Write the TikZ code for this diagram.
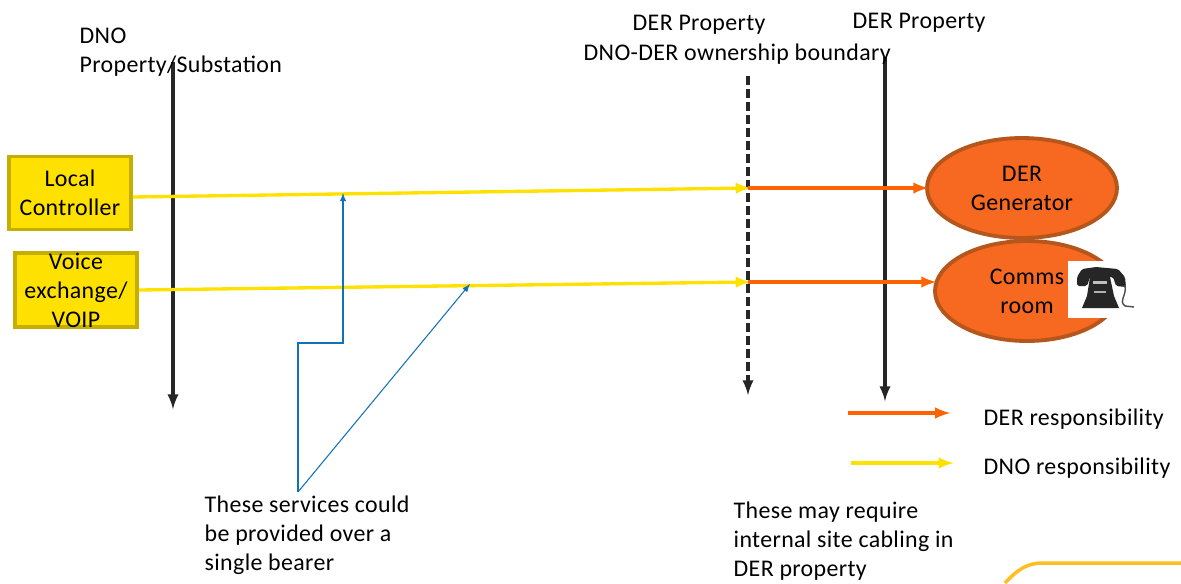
\documentclass[tikz,border=0pt]{standalone}
\usepackage{fontspec}
\setmainfont[LetterSpace=1.5]{Carlito}
\usetikzlibrary{shapes,arrows,positioning,calc}
\definecolor{dnoyellow}{HTML}{FFE100}
\definecolor{dnoborder}{HTML}{C4AE00}
\definecolor{derorange}{HTML}{F76820}
\definecolor{derborder}{HTML}{B5561C}
\definecolor{derline}{HTML}{FF6200}
\definecolor{bearerblue}{HTML}{1272B8}
\definecolor{cornergold}{HTML}{FFBE21}
\begin{document}
\begin{tikzpicture}[>=latex,x=0.02cm,y=0.02cm,thick]
\tikzstyle{words} = [align = center, inner sep = 0pt, font = \fontsize{13.6}{16.5}\selectfont]
\tikzstyle{unit} = [words, draw = dnoborder, fill = dnoyellow, line width = 2.2pt, minimum width = 2.44cm, minimum height = 1.46cm, execute at begin node = {\rule{0pt}{12pt}}]
\tikzstyle{site} = [words, draw = derborder, fill = derorange, ellipse, line width = 2.2pt, minimum height = 2.0cm, execute at begin node = {\rule{0pt}{12pt}}]
\tikzstyle{note} = [words, align = left, anchor = north west]
\tikzstyle{boundary} = [->, draw = black!85, line width = 1.85pt, shorten > = -1.2pt]
\tikzstyle{dno} = [->, draw = dnoyellow, line width = 1.9pt, shorten > = -1.5pt]
\tikzstyle{der} = [->, draw = derline, line width = 1.9pt, shorten > = -1.8pt]
\tikzstyle{bearer} = [->, draw = bearerblue, line width = 0.6pt]
\useasboundingbox (0,0) rectangle (1181,-583);

\node[unit] (controller) at (70,-193)    {Local\\Controller};
\node[unit] (voice)      at (76,-290)    {Voice\\exchange/\\VOIP};
\node[site,minimum width=3.8cm]  (generator) at (1022,-188) {DER\\Generator};
\node[site,minimum width=3.68cm] (comms)     at (1027,-291) {Comms\\room};

\coordinate (dnotop)   at (173,-62);
\coordinate (dnobot)   at (173,-407);
\coordinate (bndtop)   at (748,-76);
\coordinate (bndbot)   at (748,-393);
\coordinate (dertop)   at (885,-57);
\coordinate (derbot)   at (885,-399);
\coordinate (ctrlbnd)  at (748,-188);
\coordinate (voicebnd) at (748,-282);
\coordinate (ctrlhit)  at (343,-193);
\coordinate (voicehit) at (470,-284);
\coordinate (bearer)   at (298,-492);

\draw[boundary] (dnotop) -- (dnobot);
\draw[boundary,dash pattern=on 5pt off 2.4pt] (bndtop) -- (bndbot);
\draw[boundary] (dertop) -- (derbot);

\draw[dno] ($(controller.east)+(0,-4)$) -- (ctrlbnd);
\draw[dno] (voice.east) -- (voicebnd);
\draw[der] (ctrlbnd) -- (ctrlbnd -| generator.west);
\draw[der] (voicebnd) -- (voicebnd -| comms.west);

\draw[bearer] (bearer) -- (298,-343) -- (343,-343) -- (ctrlhit);
\draw[bearer] (bearer) -- (voicehit);

% telephone
\node[fill=white,minimum width=1.24cm,minimum height=1.14cm,inner sep=0pt] (phone) at (1099,-289.5) {};
\fill[black!85,rounded corners=1pt] (1077,-277) -- (1082,-269) -- (1096,-267) -- (1118,-269) -- (1125,-277) -- (1126,-287) -- (1116,-286) -- (1113,-277) -- (1090,-277) -- (1087,-286) -- (1077,-286) -- cycle;
\fill[black!85] (1090,-277) -- (1110,-277) -- (1114,-296) -- (1119,-308) -- (1082,-308) -- (1087,-296) -- cycle;
\fill[white!75!black] (1093,-281) rectangle (1107,-284);
\fill[white!70!black] (1094,-291) rectangle (1106,-293);
\draw[black!70,line width=0.8pt] (1125,-285) .. controls (1127,-297) and (1118,-300) .. (1125,-306) -- (1134,-307);

\node[note] (dnolabel) at (79,-27) {DNO\\Property/Substation};
\node[note] (bndprop)  at (632,-14) {DER Property};
\node[note] (bndlabel) at (583,-43) {DNO-DER ownership boundary};
\node[note] (derlabel) at (852,-12) {DER Property};
\node[note] (services) at (204,-495) {These services could\\be provided over a\\single bearer};
\node[note] (cabling)  at (733,-501) {These may require\\internal site cabling in\\DER property};

\coordinate (derkeya) at (848,-413);
\coordinate (derkeyb) at (947,-413);
\coordinate (dnokeya) at (851,-463);
\coordinate (dnokeyb) at (951,-463);
\draw[der] (derkeya) -- (derkeyb);
\draw[dno] (dnokeya) -- (dnokeyb);
\node[note] (derkey) at (983,-408) {DER responsibility};
\node[note] (dnokey) at (983,-457) {DNO responsibility};

\coordinate (cornera) at (1005,-583);
\coordinate (cornerb) at (1181,-563);
\draw[draw=cornergold,line width=2pt] (cornera) .. controls (1018,-569) and (1028,-563) .. (1042,-563) -- (cornerb);
\end{tikzpicture}
\end{document}
